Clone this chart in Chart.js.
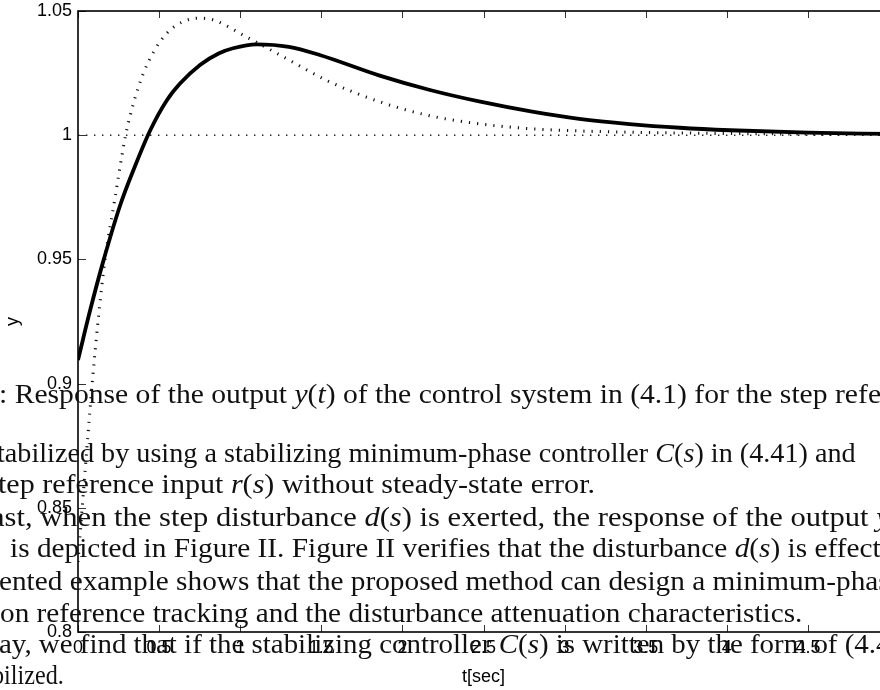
<!DOCTYPE html>
<html><head><meta charset="utf-8">
<script src="https://cdn.jsdelivr.net/npm/chart.js@4.4.0/dist/chart.umd.min.js"></script>
<style>
html,body{margin:0;padding:0;background:#fff;overflow:hidden;width:880px;height:690px;}
#wrap{position:relative;width:880px;height:690px;overflow:hidden;}
#c{position:absolute;left:0;top:0;width:900px;height:690px;}
#txt{position:absolute;left:0;top:0;width:880px;height:690px;pointer-events:none;}
.ln{position:absolute;white-space:nowrap;font-family:"Liberation Serif",serif;font-size:27.5px;line-height:30px;color:#111;transform-origin:0 0;}
.ln i{font-style:italic;}
.b{display:inline-block;width:0;height:0;vertical-align:baseline;}
</style></head>
<body><div id="wrap"><canvas id="c" width="900" height="690"></canvas><div id="txt"></div></div>
<script>
// ---- data ----
const tSolid = [0, 0.074, 0.156, 0.259, 0.35, 0.444, 0.547, 0.629, 0.752, 0.87, 0.956, 1.10, 1.30, 1.49, 1.86, 2.17, 2.48, 2.8, 3.09, 3.4, 3.71, 4.02, 4.5, 5.0];
const ySolid = [0.9095, 0.9293, 0.9493, 0.9716, 0.9873, 1.0018, 1.0140, 1.0208, 1.0283, 1.0330, 1.0350, 1.0366, 1.0356, 1.0323, 1.0240, 1.0182, 1.0135, 1.0095, 1.0066, 1.0045, 1.0030, 1.0020, 1.0010, 1.0005];
const tDotted = [0, 0.045, 0.091, 0.125, 0.166, 0.225, 0.293, 0.345, 0.403, 0.47, 0.547, 0.65, 0.75, 0.834, 1.04, 1.245, 1.554, 1.862, 2.15, 2.435, 2.75, 3.095, 3.71, 4.4, 5.0];
const yDotted = [0.8282, 0.8660, 0.9027, 0.9260, 0.9498, 0.9735, 0.9997, 1.0135, 1.0249, 1.0340, 1.0410, 1.0458, 1.0471, 1.0464, 1.0395, 1.0323, 1.0214, 1.0134, 1.0081, 1.0049, 1.0028, 1.0017, 1.0009, 1.0005, 1.0003];
const tRef = [0, 5];
const yRef = [1, 1];
const xTickValues = [0, 0.5, 1, 1.5, 2, 2.5, 3, 3.5, 4, 4.5, 5];
const xTickLabels = ['0', '0.5', '1', '1.5', '2', '2.5', '3', '3.5', '4', '4.5', '5'];
const yTickValues = [0.8, 0.85, 0.9, 0.95, 1, 1.05];
const yTickLabels = ['0.8', '0.85', '0.9', '0.95', '1', '1.05'];
const xTitle = 't[sec]';
const yTitle = 'y';

// ---- overlaid page text (layout) ----
const overlayLines = [
  {html: ': Response of the output <i>y</i>(<i>t</i>) of the control system in (4.1) for the step <span class="a"></span>reference input', left: -1, base: 403, ax: 835},
  {html: 'tabilized by using a stabilizing minimum-phase controller <i>C</i>(<i>s</i>) in <span class="a"></span>(4.41) and', left: -3, base: 462, ax: 740},
  {html: 'tep reference input <i>r</i>(<i>s</i>) without steady-state error.<span class="a"></span>', left: -2, base: 493, ax: 595},
  {html: 'ast, when the step disturbance <i>d</i>(<i>s</i>) is exerted, the response of the <span class="a"></span>output <i>y</i>(<i>t</i>)', left: -9, base: 525.5, ax: 790},
  {html: 'is depicted in Figure II. Figure II verifies that the disturbance <span class="a"></span><i>d</i>(<i>s</i>) is effectively', left: 10, base: 557, ax: 735},
  {html: 'ented example shows that the proposed method can design a <span class="a"></span>minimum-phase', left: -1, base: 590, ax: 713},
  {html: 'on reference tracking and the disturbance attenuation characteristics.<span class="a"></span>', left: 0, base: 621.5, ax: 802},
  {html: 'ay, we find that if the stabilizing controller <i>C</i>(<i>s</i>) is written by the form of <span class="a"></span>(4.41)', left: -1, base: 653, ax: 845},
  {html: 'bilized.<span class="a"></span>', left: -8, base: 684, ax: 64}
];

const pts = (xs, ys) => xs.map((x, i) => ({x: x, y: ys[i]}));

const boxTicks = {
  id: 'boxTicks',
  afterDatasetsDraw(chart) {
    const {ctx, chartArea: a, scales: {x, y}} = chart;
    ctx.save();
    ctx.strokeStyle = '#333';
    ctx.lineWidth = 1;
    ctx.beginPath();
    xTickValues.forEach(v => {
      const px = Math.round(x.getPixelForValue(v)) + 0.5;
      ctx.moveTo(px, a.bottom); ctx.lineTo(px, a.bottom - 7);
      ctx.moveTo(px, a.top); ctx.lineTo(px, a.top + 7);
    });
    yTickValues.forEach(v => {
      const py = Math.round(y.getPixelForValue(v)) + 0.5;
      ctx.moveTo(a.left, py); ctx.lineTo(a.left + 8, py);
      ctx.moveTo(a.right, py); ctx.lineTo(a.right - 8, py);
    });
    ctx.stroke();
    ctx.strokeStyle = '#000';
    ctx.lineWidth = 1.6;
    ctx.strokeRect(a.left, a.top, a.right - a.left, a.bottom - a.top);
    ctx.restore();
  }
};

const tickFont = {family: '"Liberation Sans", Arial, sans-serif', size: 18};

new Chart(document.getElementById('c'), {
  type: 'line',
  data: {
    datasets: [
      {data: pts(tSolid, ySolid), borderColor: '#000', borderWidth: 3.8, pointRadius: 0, cubicInterpolationMode: 'monotone', fill: false},
      {data: pts(tDotted, yDotted), borderColor: '#111', borderWidth: 3, borderDash: [1.2, 7], borderCapStyle: 'butt', pointRadius: 0, cubicInterpolationMode: 'monotone', fill: false},
      {data: pts(tRef, yRef), borderColor: '#222', borderWidth: 1.4, borderDash: [1.4, 6.6], pointRadius: 0, fill: false}
    ]
  },
  options: {
    responsive: false,
    animation: false,
    devicePixelRatio: 1,
    layout: {padding: {top: 11, right: 11, left: 0, bottom: 0}},
    plugins: {legend: {display: false}, tooltip: {enabled: false}},
    scales: {
      x: {
        type: 'linear', min: 0, max: 5,
        afterFit: s => { s.height = 58; s.paddingLeft = 0; s.paddingRight = 0; },
        afterBuildTicks: s => { s.ticks = xTickValues.map(v => ({value: v})); },
        grid: {display: false, drawTicks: false},
        border: {display: false},
        ticks: {autoSkip: false, maxRotation: 0, padding: 5, color: '#000', font: tickFont,
          callback: (v, i) => xTickLabels[i]},
        title: {display: true, text: xTitle, color: '#000', font: tickFont, padding: {top: 0, bottom: 2}}
      },
      y: {
        type: 'linear', min: 0.8, max: 1.05,
        afterFit: s => { s.width = 78; s.paddingTop = 0; s.paddingBottom = 0; },
        afterBuildTicks: s => { s.ticks = yTickValues.map(v => ({value: v})); },
        grid: {display: false, drawTicks: false},
        border: {display: false},
        ticks: {autoSkip: false, padding: 6, color: '#000', font: tickFont,
          callback: (v, i) => yTickLabels[i]},
        title: {display: true, text: yTitle, color: '#000', font: tickFont, padding: {top: 2, bottom: 0}}
      }
    }
  },
  plugins: [boxTicks]
});

const txt = document.getElementById('txt');
overlayLines.forEach(L => {
  const d = document.createElement('div');
  d.className = 'ln';
  d.innerHTML = '<span class="b"></span>' + L.html;
  d.style.left = L.left + 'px';
  d.style.top = '0px';
  txt.appendChild(d);
  const bOff = d.querySelector('.b').offsetTop;
  const aOff = d.querySelector('.a').offsetLeft;
  d.style.top = (L.base - bOff) + 'px';
  d.style.transform = 'scaleX(' + ((L.ax - L.left) / aOff) + ')';
});
</script>
</body></html>
